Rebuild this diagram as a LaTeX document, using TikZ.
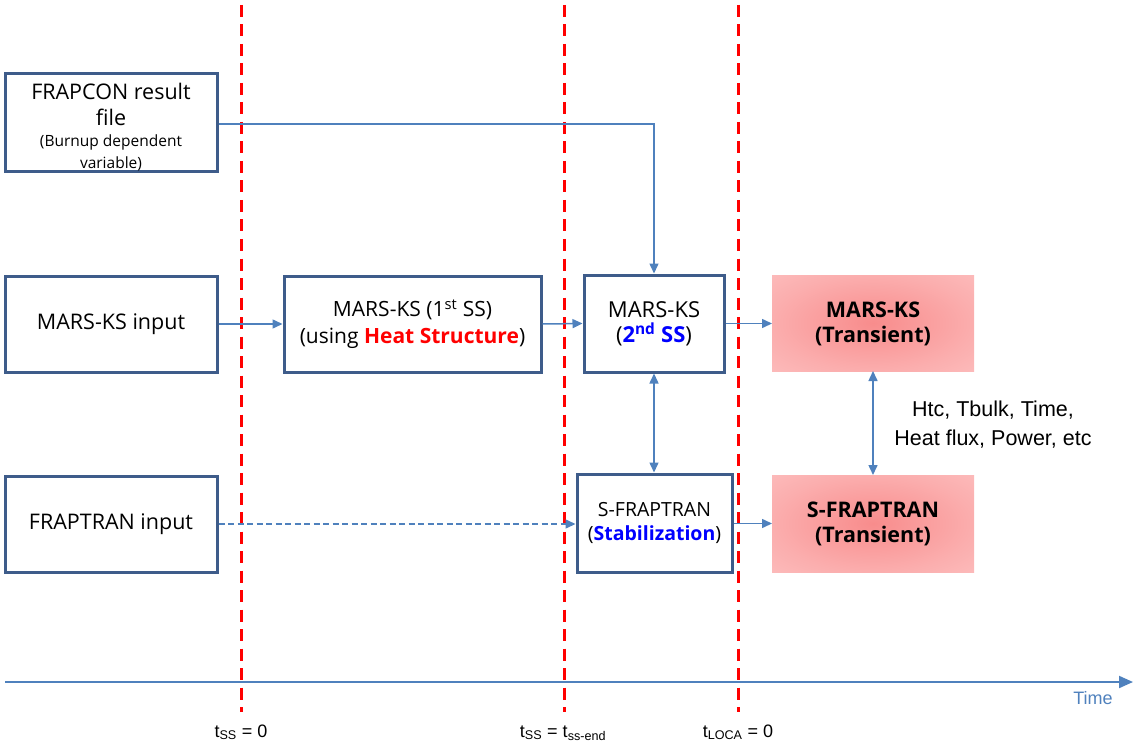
\documentclass[tikz,border=0pt]{standalone}
\usepackage{fontspec}
\setmainfont{Open Sans}
\newfontfamily\arialf{Liberation Sans}
\usetikzlibrary{arrows.meta}
\definecolor{boxblue}{HTML}{3E5C8A}
\definecolor{arrblue}{HTML}{4F81BD}
\definecolor{glowin}{HTML}{F88C8C}
\definecolor{glowa}{HTML}{FBAEAE}
\definecolor{glowmid}{HTML}{FECACA}
\definecolor{glowout}{HTML}{FFDADA}
\definecolor{txtblue}{HTML}{0000FF}
\pgfdeclareradialshading{glowshade}{\pgfpoint{0bp}{0bp}}{color(0bp)=(glowin); color(25bp)=(glowa); color(50bp)=(glowmid); color(71bp)=(glowout)}
\tikzset{
  box/.style={draw=boxblue, line width=3pt, fill=white, align=center, inner sep=2pt,
    font=\fontsize{21.5}{27}\selectfont},
  glow/.style={align=center, inner sep=2pt, font=\fontsize{21.5}{25}\selectfont\bfseries},
  flow/.style={draw=arrblue, line width=1.5pt, -{Triangle[length=10pt,width=9pt]}},
  biflow/.style={draw=arrblue, line width=1.5pt, {Triangle[length=10pt,width=9pt]}-{Triangle[length=10pt,width=9pt]}},
  tline/.style={draw=red, line width=3pt, dash pattern=on 12pt off 7.5pt, dash phase=-5pt},
  tlabel/.style={font=\arialf\fontsize{18}{20}\selectfont, anchor=base},
}
\begin{document}
\begin{tikzpicture}[x=1pt,y=-1pt]
\useasboundingbox (0,0) rectangle (1134,743);
% glow boxes
\shade[shading=glowshade] (772,275) rectangle (974,371);
\shade[shading=glowshade] (772,475) rectangle (974,572);
\node[glow] (mtr) at (873,323.5) {MARS-KS\\(Transient)};
\node[glow] (ftr) at (873,523.5) {S-FRAPTRAN\\(Transient)};
\coordinate (mtrb) at (873,371);
\coordinate (ftrt) at (873,475);
\coordinate (mtrl) at (772,323.5);
\coordinate (ftrl) at (772,523.5);
% dashed time lines
\coordinate (v1t) at (241,0); \coordinate (v1b) at (241,712);
\coordinate (v2t) at (564,0); \coordinate (v2b) at (564,712);
\coordinate (v3t) at (738,0); \coordinate (v3b) at (738,712);
% boxes
\node[box, minimum width=212pt, minimum height=98pt] (frapcon) at (111,123) {};
\node[align=center, inner sep=0pt, font=\fontsize{21.5}{26}\selectfont] (frapcontxt) at (111,127.5)
  {FRAPCON result\\file\\[-5pt]{\fontsize{15.5}{19}\selectfont (Burnup dependent}\\[-4pt]{\fontsize{15.5}{19}\selectfont variable)}};
\node[box, minimum width=212pt, minimum height=96pt] (marsin) at (111,324) {MARS-KS input};
\node[box, minimum width=212pt, minimum height=96pt] (frapin) at (111,524) {FRAPTRAN input};
\node[box, minimum width=257pt, minimum height=96pt, font=\fontsize{21}{27}\selectfont] (mars1) at (412.5,324)
  {MARS-KS (1\textsuperscript{st} SS)\\(using {\color{red}\bfseries Heat Structure})};
\node[box, minimum width=140pt, minimum height=97pt, font=\fontsize{22}{25}\selectfont] (mars2) at (654,323.5)
  {MARS-KS\\({\color{txtblue}\bfseries 2\textsuperscript{nd} SS})};
\node[box, minimum width=155pt, minimum height=98pt, font=\fontsize{19.5}{24}\selectfont] (sfrap) at (654.5,523)
  {S-FRAPTRAN\\({\color{txtblue}\bfseries Stabilization})};
% red lines drawn over
\draw[tline] (v1t) -- (v1b);
\draw[tline] (v2t) -- (v2b);
\draw[tline] (v3t) -- (v3b);
% connectors
\coordinate (bend) at (654,124);
\draw[flow] (frapcon.east |- bend) -- (bend) -- (mars2.north);
\draw[flow] (marsin.east) -- (mars1.west);
\draw[flow] (mars1.east) -- (mars2.west);
\draw[flow] (mars2.east) -- (mtrl);
\draw[biflow] (mars2.south) -- (mars2.south |- sfrap.north);
\draw[flow, dash pattern=on 6pt off 3.5pt] (frapin.east) -- (sfrap.west |- frapin.east);
\draw[flow] (sfrap.east |- ftrl) -- (ftrl);
\draw[biflow] (mtrb) -- (ftrt);
\node[font=\arialf\fontsize{21.5}{29}\selectfont, align=center] (vars) at (993,425)
  {Htc, Tbulk, Time,\\Heat flux, Power, etc};
% time axis
\coordinate (ax0) at (5,682);
\coordinate (ax1) at (1133,682);
\draw[draw=arrblue, line width=2pt, -{Triangle[length=14pt,width=12pt]}] (ax0) -- (ax1);
\node[font=\arialf\fontsize{18}{20}\selectfont, text=arrblue, anchor=base] (timelbl) at (1093,704) {Time};
% labels
\node[tlabel] (l1) at (241,737) {t\textsubscript{SS} = 0};
\node[tlabel] (l2) at (563,737) {t\textsubscript{SS} = t\textsubscript{ss-end}};
\node[tlabel] (l3) at (738,737) {t\textsubscript{LOCA} = 0};
\end{tikzpicture}
\end{document}
